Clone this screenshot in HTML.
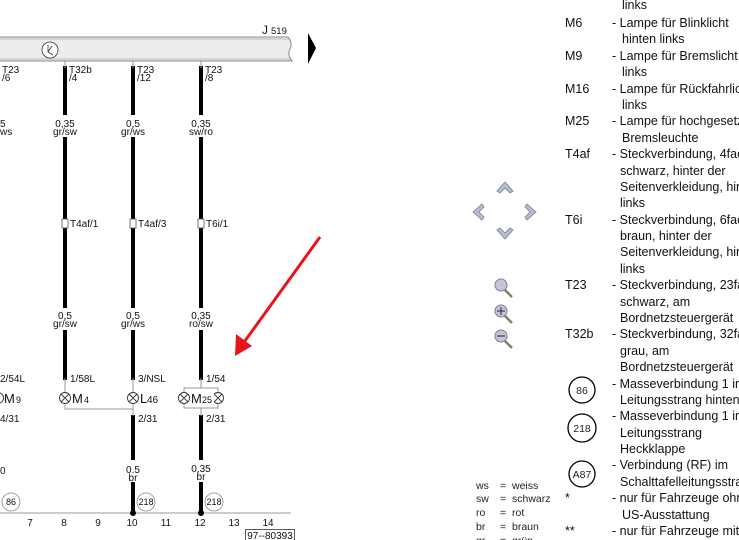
<!DOCTYPE html>
<html><head><meta charset="utf-8"><style>
html,body{margin:0;padding:0;background:#fff;width:739px;height:540px;overflow:hidden}
svg{display:block}
.s{font-family:"Liberation Sans",Arial,sans-serif;font-size:10px;fill:#111}
.l{font-family:"Liberation Sans",Arial,sans-serif;font-size:12.5px;fill:#111}
.c{font-family:"Liberation Sans",Arial,sans-serif;font-size:10.5px;fill:#222}
</style></head><body>
<svg width="739" height="540" viewBox="0 0 739 540" xmlns="http://www.w3.org/2000/svg">
<!-- J519 bar -->
<path d="M0,37 H288 Q293,43 290,49 Q287,55 292,61 H0" fill="#ececec" stroke="#888" stroke-width="1"/>
<line x1="0" y1="39" x2="289" y2="39" stroke="#bbb"/>
<line x1="0" y1="59" x2="290" y2="59" stroke="#bbb"/>
<text x="262" y="34" class="s" style="font-size:12px">J</text><text x="271" y="34" class="s" style="font-size:9.5px">519</text>
<circle cx="50" cy="50" r="8" fill="#fff" stroke="#333" stroke-width="0.8"/>
<path d="M48,45 V52 L53,55 M48,52 L52,46" stroke="#333" fill="none" stroke-width="0.8"/>
<polygon points="308,33 316,48 308,64" fill="#000"/>
<!-- wires -->
<g stroke="#000" stroke-width="4">
<line x1="65" y1="66" x2="65" y2="380"/>
<line x1="133" y1="66" x2="133" y2="380"/>
<line x1="201" y1="66" x2="201" y2="380"/>
<line x1="133" y1="415" x2="133" y2="513"/>
<line x1="201" y1="415" x2="201" y2="513"/>
</g>
<g stroke="#999" stroke-width="1" fill="none">
<line x1="65" y1="61" x2="65" y2="68"/><line x1="133" y1="61" x2="133" y2="68"/><line x1="201" y1="61" x2="201" y2="68"/>
<line x1="65" y1="378" x2="65" y2="393"/><line x1="133" y1="378" x2="133" y2="393"/><line x1="201" y1="378" x2="201" y2="388"/>
<path d="M65,404 V409 H133 V416"/>
<line x1="133" y1="404" x2="133" y2="410"/>
<rect x="184" y="388" width="34" height="20"/>
<line x1="201" y1="408" x2="201" y2="416"/>
</g>
<!-- label bg boxes to break wires -->
<g fill="#fff">
<rect x="52" y="115" width="28" height="22"/><rect x="120" y="115" width="28" height="22"/><rect x="188" y="115" width="28" height="22"/>
<rect x="52" y="308" width="28" height="22"/><rect x="120" y="308" width="28" height="22"/><rect x="188" y="308" width="28" height="22"/>
<rect x="122" y="460" width="22" height="22"/><rect x="190" y="460" width="22" height="22"/>
</g>
<g class="s">
<text x="2" y="73">T23</text><text x="2" y="81">/6</text>
<text x="69" y="73">T32b</text><text x="69" y="81">/4</text>
<text x="137" y="73">T23</text><text x="137" y="81">/12</text>
<text x="205" y="73">T23</text><text x="205" y="81">/8</text>
<text x="0" y="127">5</text><text x="0" y="135">ws</text>
<g text-anchor="middle">
<text x="65" y="127">0,35</text><text x="65" y="135">gr/sw</text>
<text x="133" y="127">0,5</text><text x="133" y="135">gr/ws</text>
<text x="201" y="127">0,35</text><text x="201" y="135">sw/ro</text>
<text x="65" y="319">0,5</text><text x="65" y="327">gr/sw</text>
<text x="133" y="319">0,5</text><text x="133" y="327">gr/ws</text>
<text x="201" y="319">0,35</text><text x="201" y="327">ro/sw</text>
<text x="133" y="473">0.5</text><text x="133" y="481">br</text>
<text x="201" y="472">0,35</text><text x="201" y="480">br</text>
</g>
<text x="70" y="227">T4af/1</text><text x="138" y="227">T4af/3</text><text x="206" y="227">T6i/1</text>
<text x="0" y="382">2/54L</text><text x="70" y="382">1/58L</text><text x="138" y="382">3/NSL</text><text x="206" y="382">1/54</text>
<text x="0" y="422">4/31</text><text x="138" y="422">2/31</text><text x="206" y="422">2/31</text>
<text x="0" y="474">0</text>
</g>
<g fill="#fff" stroke="#555" stroke-width="0.8">
<rect x="62" y="219" width="6" height="9"/><rect x="130" y="219" width="6" height="9"/><rect x="198" y="219" width="6" height="9"/>
</g>
<!-- lamps -->
<g fill="#fff" stroke="#333" stroke-width="0.9">
<circle cx="65" cy="398" r="5.5"/><circle cx="133" cy="398" r="5.5"/><circle cx="184" cy="398" r="5.5"/><circle cx="218" cy="398" r="5.5"/><circle cx="-2" cy="398" r="5.5"/>
</g>
<g stroke="#333" stroke-width="0.9">
<path d="M61,394 l8,8 M69,394 l-8,8 M129,394 l8,8 M137,394 l-8,8 M180,394 l8,8 M188,394 l-8,8 M214,394 l8,8 M222,394 l-8,8"/>
</g>
<rect x="191" y="391" width="23" height="14" fill="#fff"/>
<g class="s" style="font-size:13px">
<text x="4" y="403">M</text><text x="16" y="403" style="font-size:9px">9</text>
<text x="72" y="403">M</text><text x="84" y="403" style="font-size:9px">4</text>
<text x="140" y="403">L</text><text x="147" y="403" style="font-size:10px">46</text>
<text x="191" y="403">M</text><text x="202" y="403" style="font-size:9px">25</text>
</g>
<!-- ground -->
<line x1="0" y1="513" x2="291" y2="513" stroke="#999" stroke-width="1"/>
<circle cx="133" cy="513" r="3" fill="#000"/><circle cx="201" cy="513" r="3" fill="#000"/>
<g fill="#fff" stroke="#888" stroke-width="0.8">
<circle cx="11" cy="502" r="9"/><circle cx="146" cy="502" r="9"/><circle cx="214" cy="502" r="9"/>
</g>
<g class="s" text-anchor="middle" style="font-size:9px"><text x="11" y="505">86</text><text x="146" y="505">218</text><text x="214" y="505">218</text></g>
<g class="s" text-anchor="middle">
<text x="30" y="526">7</text><text x="64" y="526">8</text><text x="98" y="526">9</text><text x="132" y="526">10</text><text x="166" y="526">11</text><text x="200" y="526">12</text><text x="234" y="526">13</text><text x="268" y="526">14</text>
</g>
<rect x="245.5" y="529.5" width="49" height="12" fill="#fff" stroke="#333" stroke-width="0.8"/>
<text x="270" y="539" class="s" text-anchor="middle">97--80393</text>
<!-- red arrow -->
<line x1="320" y1="237" x2="242" y2="345" stroke="#e8141b" stroke-width="3"/>
<polygon points="235,356 236,334 252,346" fill="#e8141b"/>
<!-- nav -->
<g fill="#b8bcd0" stroke="#7a7f98" stroke-width="0.8">
<polygon points="497,191 505,182 513,191 510,193 505,188 500,193"/>
<polygon points="497,230 505,239 513,230 510,228 505,233 500,228"/>
<polygon points="482,204 473,212 482,220 484,217 479,212 484,207"/>
<polygon points="527,204 536,212 527,220 525,217 530,212 525,207"/>
</g>
<g stroke="#8a7a6a" stroke-width="2.5"><line x1="504" y1="289" x2="512" y2="297"/><line x1="504" y1="315" x2="512" y2="323"/><line x1="504" y1="340" x2="512" y2="348"/></g>
<g fill="#c4c6d8" stroke="#7a7f98" stroke-width="1"><circle cx="501" cy="285" r="6"/><circle cx="501" cy="311" r="6"/><circle cx="501" cy="336" r="6"/></g>
<path d="M497,311 h8 M501,307 v8 M497,336 h8" stroke="#444" stroke-width="1.2"/>
<!-- legend -->
<g class="l">
<text x="622" y="9">links</text>
<text x="565" y="27">M6</text><text x="612" y="27">-  Lampe für Blinklicht</text><text x="622" y="43">hinten links</text>
<text x="565" y="60">M9</text><text x="612" y="60">-  Lampe für Bremslicht</text><text x="622" y="76">links</text>
<text x="565" y="93">M16</text><text x="612" y="93">-  Lampe für Rückfahrlicht</text><text x="622" y="109">links</text>
<text x="565" y="125">M25</text><text x="612" y="125">-  Lampe für hochgesetzte</text><text x="622" y="142">Bremsleuchte</text>
<text x="565" y="158">T4af</text><text x="612" y="158">- Steckverbindung, 4fach,</text><text x="620" y="175">schwarz, hinter der</text><text x="620" y="191">Seitenverkleidung, hinten</text><text x="620" y="207">links</text>
<text x="565" y="224">T6i</text><text x="612" y="224">- Steckverbindung, 6fach,</text><text x="620" y="240">braun, hinter der</text><text x="620" y="256">Seitenverkleidung, hinten</text><text x="620" y="273">links</text>
<text x="565" y="289">T23</text><text x="612" y="289">- Steckverbindung, 23fach,</text><text x="620" y="306">schwarz, am</text><text x="620" y="322">Bordnetzsteuergerät</text>
<text x="565" y="338">T32b</text><text x="612" y="338">- Steckverbindung, 32fach,</text><text x="620" y="355">grau, am</text><text x="620" y="371">Bordnetzsteuergerät</text>
<text x="612" y="388">- Masseverbindung 1 im</text><text x="620" y="404">Leitungsstrang hinten</text>
<text x="612" y="420">- Masseverbindung 1 im</text><text x="620" y="437">Leitungsstrang</text><text x="620" y="453">Heckklappe</text>
<text x="612" y="469">- Verbindung (RF) im</text><text x="620" y="486">Schalttafelleitungsstrang</text>
<text x="565" y="502">*</text><text x="612" y="502">-  nur für Fahrzeuge ohne</text><text x="622" y="519">US-Ausstattung</text>
<text x="565" y="535">**</text><text x="612" y="535">-  nur für Fahrzeuge mit</text>
</g>
<g fill="#fff" stroke="#000" stroke-width="1.3"><circle cx="582" cy="390" r="13"/><circle cx="582" cy="428" r="14"/><circle cx="582" cy="474" r="13"/></g>
<g class="c" text-anchor="middle"><text x="582" y="394">86</text><text x="582" y="432">218</text><text x="582" y="478">A87</text></g>
<g class="c">
<text x="476" y="489">ws</text><text x="500" y="489">=</text><text x="512" y="489">weiss</text>
<text x="476" y="502">sw</text><text x="500" y="502">=</text><text x="512" y="502">schwarz</text>
<text x="476" y="516">ro</text><text x="500" y="516">=</text><text x="512" y="516">rot</text>
<text x="476" y="530">br</text><text x="500" y="530">=</text><text x="512" y="530">braun</text>
<text x="476" y="544">gr</text><text x="500" y="544">=</text><text x="512" y="544">grün</text>
</g>
</svg>
</body></html>
